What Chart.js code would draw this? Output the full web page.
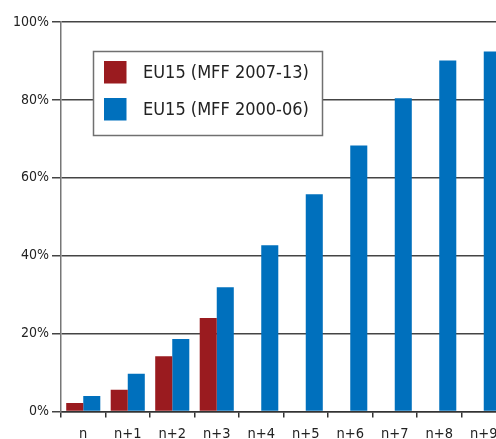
<!DOCTYPE html>
<html>
<head>
<meta charset="utf-8">
<script src="https://cdn.jsdelivr.net/npm/chart.js@4.4.1/dist/chart.umd.min.js"></script>
<style>
  html, body { margin: 0; padding: 0; background: #fff; overflow: hidden; }
  #wrap { width: 496px; height: 439px; overflow: hidden; position: relative; }
  canvas { display: block; }
</style>
</head>
<body>
<div id="wrap"><canvas id="c" width="506" height="439"></canvas></div>
<script>
const categories = ["n", "n+1", "n+2", "n+3", "n+4", "n+5", "n+6", "n+7", "n+8", "n+9"];
const seriesNames = ["EU15 (MFF 2007-13)", "EU15 (MFF 2000-06)"];
const eu15_2007_13 = [2.2, 5.6, 14.2, 24.0, null, null, null, null, null, null];
const eu15_2000_06 = [4.0, 9.7, 18.6, 31.9, 42.7, 55.8, 68.3, 80.4, 90.1, 92.4];
const yTicks = [0, 20, 40, 60, 80, 100];

const FONT = '"DejaVu Sans Condensed", "Liberation Sans Narrow", "Roboto Condensed", Roboto, sans-serif';
const RED = '#9a1b1f';
const BLUE = '#0070bd';

const legendInside = {
  id: 'legendInside',
  afterDatasetsDraw(chart) {
    const ctx = chart.ctx;
    const x = 93.5, y = 51.5, w = 229, h = 84;
    ctx.save();
    ctx.fillStyle = '#fff';
    ctx.fillRect(x, y, w, h);
    ctx.strokeStyle = '#707070';
    ctx.lineWidth = 1.5;
    ctx.strokeRect(x, y, w, h);
    ctx.font = '18px ' + FONT;
    ctx.textBaseline = 'middle';
    chart.data.datasets.forEach((ds, i) => {
      const sy = 61 + i * 37;
      ctx.fillStyle = ds.backgroundColor;
      ctx.fillRect(104, sy, 22.5, 22.5);
      ctx.fillStyle = '#222';
      ctx.fillText(ds.label, 143, sy + 12);
    });
    ctx.restore();
  }
};

new Chart(document.getElementById('c'), {
  type: 'bar',
  data: {
    labels: categories,
    datasets: [
      { label: seriesNames[0], data: eu15_2007_13, backgroundColor: RED },
      { label: seriesNames[1], data: eu15_2000_06, backgroundColor: BLUE }
    ]
  },
  options: {
    responsive: false,
    animation: false,
    layout: { padding: { top: 22, left: 10, right: 0, bottom: 0 } },
    datasets: { bar: { categoryPercentage: 0.766, barPercentage: 1.0 } },
    plugins: { legend: { display: false }, tooltip: { enabled: false }, title: { display: false } },
    scales: {
      x: {
        afterFit(scale) { scale.height = 27.5; },
        grid: { display: true, offset: true, drawOnChartArea: false, drawTicks: true, tickLength: 6, color: '#333', lineWidth: 1.5 },
        border: { display: true, color: '#333', width: 1.5 },
        ticks: { color: '#222', font: { family: FONT, size: 14.5 }, padding: 8, maxRotation: 0, autoSkip: false }
      },
      y: {
        min: 0, max: 100,
        afterBuildTicks(scale) { scale.ticks = yTicks.map(v => ({ value: v })); },
        grid: { color: '#444', lineWidth: 1.5, tickLength: 9, drawTicks: true },
        border: { display: true, color: '#777', width: 1.5 },
        ticks: { color: '#222', font: { family: FONT, size: 14 }, padding: 3, callback: v => v + '%' }
      }
    }
  },
  plugins: [legendInside]
});
</script>
</body>
</html>
